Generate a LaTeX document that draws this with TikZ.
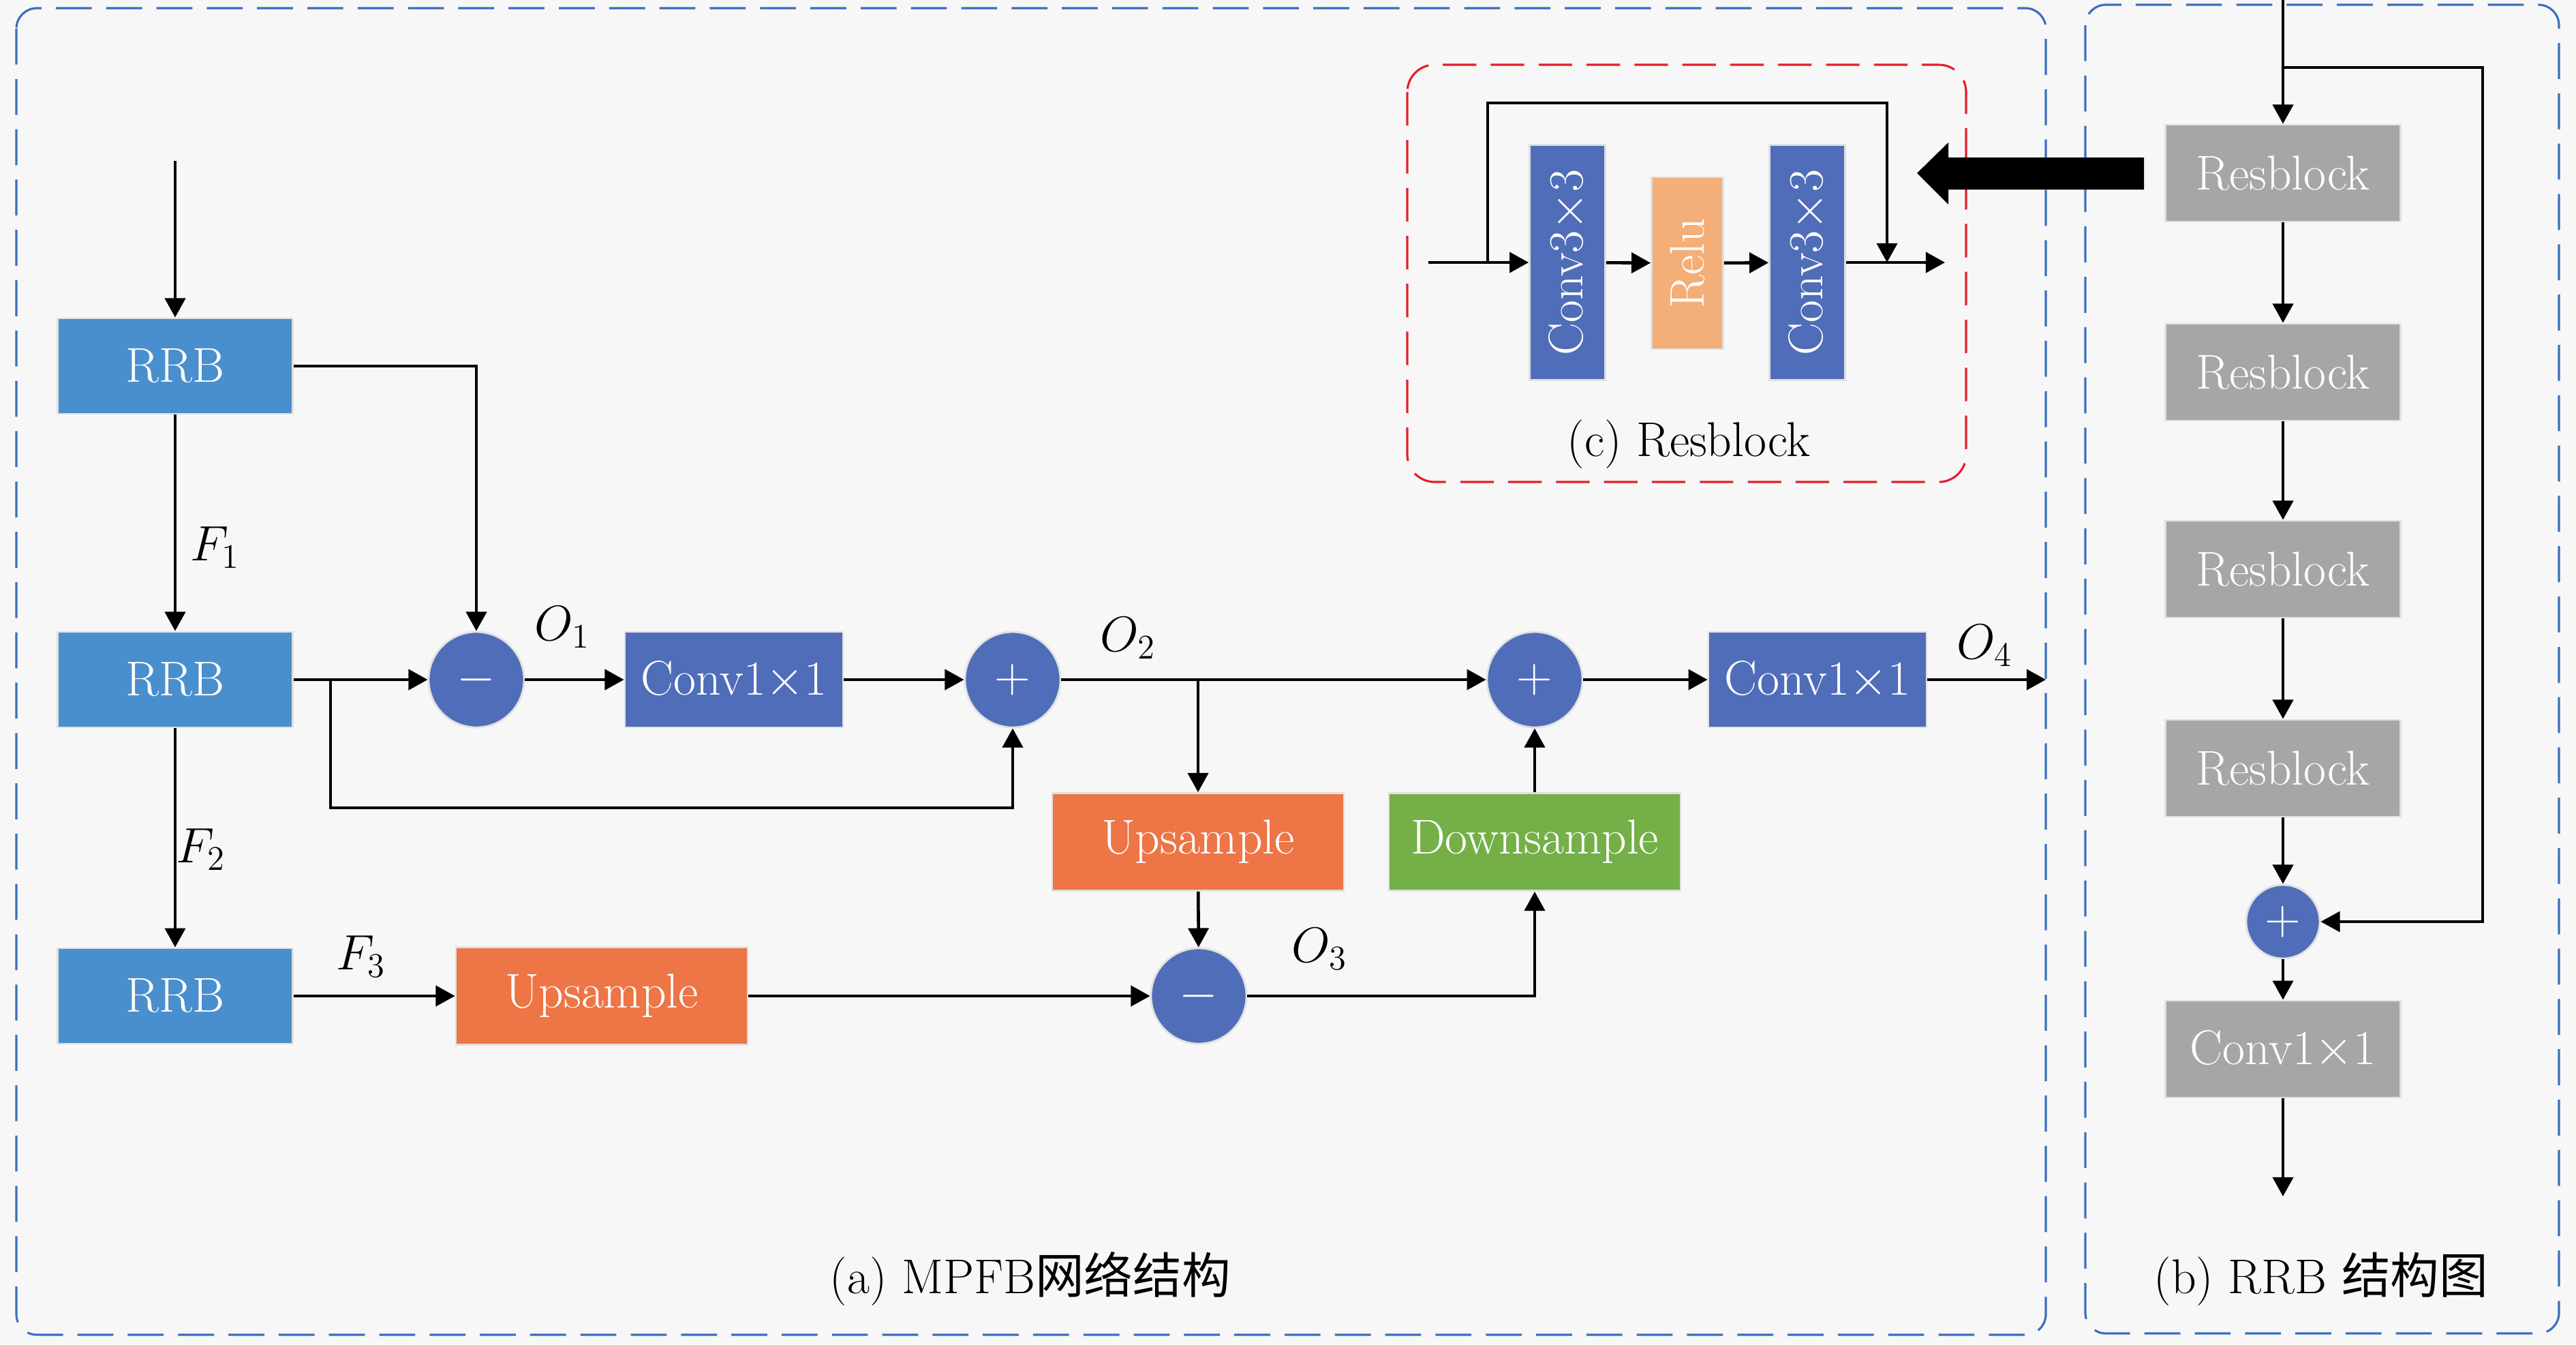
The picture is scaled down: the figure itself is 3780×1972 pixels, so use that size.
\documentclass[tikz,border=0pt]{standalone}
\usepackage{fontspec}
\newfontfamily\cjk{Noto Sans CJK SC}
\usetikzlibrary{arrows.meta,calc}
\definecolor{bgc}{HTML}{F7F7F7}
\definecolor{rrbblue}{HTML}{4A8FCD}
\definecolor{convblue}{HTML}{4F6DB8}
\definecolor{uporange}{HTML}{ED7546}
\definecolor{dngreen}{HTML}{74AF48}
\definecolor{reluor}{HTML}{F4AE78}
\definecolor{gboxc}{HTML}{A6A6A6}
\definecolor{panelblue}{HTML}{3A6FC0}
\definecolor{panelred}{HTML}{E3202A}
\newcommand{\myfs}{\fontsize{20.4}{24}\selectfont}
\tikzset{
  box/.style={draw=black!12, line width=0.8pt, text=white, inner sep=0pt, font=\myfs},
  rrb/.style={box, fill=rrbblue, minimum width=34.5mm, minimum height=14mm},
  conv/.style={box, fill=convblue, minimum width=32mm, minimum height=14mm},
  upbox/.style={box, fill=uporange, minimum width=42.8mm, minimum height=14.3mm},
  dnbox/.style={box, fill=dngreen, minimum width=42.8mm, minimum height=14.3mm},
  relubox/.style={box, fill=reluor, minimum width=25.2mm, minimum height=10.5mm},
  gbox/.style={box, fill=gboxc, minimum width=34.5mm, minimum height=14.2mm},
  op/.style={circle, draw=black!12, line width=0.8pt, fill=convblue, text=white, inner sep=0pt, minimum size=14mm, font=\myfs},
  arr/.style={line width=1.3pt, -{Triangle[length=8pt,width=8.5pt]}},
  lab/.style={font=\myfs, inner sep=0pt},
  pblue/.style={draw=panelblue, line width=0.9pt, dash pattern=on 15pt off 6pt, rounded corners=3mm},
  pred/.style={draw=panelred, line width=0.9pt, dash pattern=on 14pt off 6pt, rounded corners=4mm},
}
\begin{document}
\begin{tikzpicture}[x=0.1mm,y=-0.1mm]
\fill[bgc] (0,0) rectangle (3780,1972);
\useasboundingbox (0,0) rectangle (3780,1972);

% panels
\draw[pblue] (24,12) rectangle (3002,1958);
\draw[pblue] (3060,7) rectangle (3755,1956);
\draw[pred] (2065,95) rectangle (2885,707);

% ---------- panel (a) ----------
\node[rrb] (r1) at (257,537) {RRB};
\node[rrb] (r2) at (257,997) {RRB};
\node[rrb] (r3) at (257,1461) {RRB};
\node[op] (m1) at (699,997) {$-$};
\node[conv] (c1) at (1077,997) {Conv1$\times$1};
\node[op] (p1) at (1486,997) {$+$};
\node[upbox] (u1) at (1758,1235) {Upsample};
\node[dnbox] (d1) at (2252,1235) {Downsample};
\node[op] (p2) at (2252,997) {$+$};
\node[conv] (c2) at (2667,997) {Conv1$\times$1};
\node[op] (m2) at (1759,1461) {$-$};
\node[upbox] (u2) at (883,1461) {Upsample};

\coordinate (in) at (257,236);
\coordinate (bb) at (485,1185);
\coordinate (out) at (3002,997);

\draw[arr] (in) -- (r1);
\draw[arr] (r1) -- (r2);
\draw[arr] (r2) -- (r3);
\draw[arr] (r1.east) -| (m1.north);
\draw[arr] (r2) -- (m1);
\draw[arr] (r2.east) -| (bb) -| (p1.south);
\draw[arr] (m1) -- (c1);
\draw[arr] (c1) -- (p1);
\draw[arr] (p1) -- (p2);
\draw[arr] (u1.north |- p1) -- (u1.north);
\draw[arr] (u1) -- (m2);
\draw[arr] (r3) -- (u2);
\draw[arr] (u2) -- (m2);
\draw[arr] (m2) -| (d1.south);
\draw[arr] (d1) -- (p2);
\draw[arr] (p2) -- (c2);
\draw[arr] (c2) -- (out);

\node[lab] (f1) at (316,803) {$F_1$};
\node[lab] (f2) at (295,1246) {$F_2$};
\node[lab] (f3) at (530,1403) {$F_3$};
\node[lab] (o1) at (825,920) {$O_1$};
\node[lab] (o2) at (1655,936) {$O_2$};
\node[lab] (o3) at (1936,1392) {$O_3$};
\node[lab] (o4) at (2912,947) {$O_4$};

\node[lab] (capa) at (1512,1876) {(a) MPFB{\cjk 网络结构}};

% ---------- panel (c) ----------
\node[box, fill=convblue, rotate=90, minimum width=34.5mm, minimum height=11.1mm] (k1) at (2300,385) {Conv3$\times$3};
\node[relubox, rotate=90] (rl) at (2476,386) {Relu};
\node[box, fill=convblue, rotate=90, minimum width=34.5mm, minimum height=11.1mm] (k2) at (2652,385) {Conv3$\times$3};
\coordinate (cin) at (2096,385);
\coordinate (cs) at (2183,385);
\coordinate (cst) at (2183,151);
\coordinate (cet) at (2769,151);
\coordinate (ce) at (2769,385);
\coordinate (cout) at (2854,385);
\draw[arr] (cin) -- (k1);
\draw[arr] (k1) -- (rl);
\draw[arr] (rl) -- (k2);
\draw[arr] (k2) -- (cout);
\draw[arr] (cs) -- (cst) -- (cet) -- (ce);
\node[lab] (capc) at (2478,652) {(c) Resblock};

% big arrow
\fill[black] (3146,231) -- (2859,231) -- (2859,209) -- (2813,254) -- (2859,300) -- (2859,278) -- (3146,278) -- cycle;

% ---------- panel (b) ----------
\node[gbox] (b1) at (3350,254) {Resblock};
\node[gbox] (b2) at (3350,546) {Resblock};
\node[gbox] (b3) at (3350,835) {Resblock};
\node[gbox] (b4) at (3350,1127) {Resblock};
\node[op, minimum size=10.8mm] (bp) at (3350,1352) {$+$};
\node[gbox] (bc) at (3350,1539) {Conv1$\times$1};
\coordinate (bin) at (3350,0);
\coordinate (bs) at (3350,99);
\coordinate (bsr) at (3643,99);
\coordinate (bout) at (3350,1755);
\draw[arr] (bin) -- (b1);
\draw[arr] (b1) -- (b2);
\draw[arr] (b2) -- (b3);
\draw[arr] (b3) -- (b4);
\draw[arr] (b4) -- (bp);
\draw[arr] (bp) -- (bc);
\draw[arr] (bc) -- (bout);
\draw[arr, line width=1pt] (bs) -- (bsr) |- (bp.east);

\node[lab] (capb) at (3406,1876) {(b) RRB {\cjk 结构图}};
\end{tikzpicture}
\end{document}
